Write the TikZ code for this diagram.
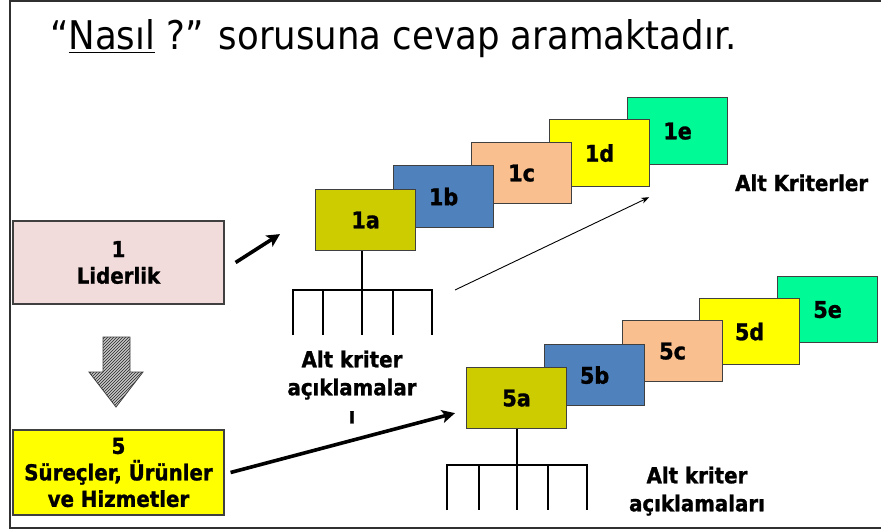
\documentclass[tikz,border=0pt]{standalone}
\usepackage{fontspec}
\setmainfont{DejaVu Sans Condensed}[BoldFeatures={FakeBold=1.2}]
\usetikzlibrary{arrows.meta,patterns}
\definecolor{frameline}{HTML}{303030}
\definecolor{boxline}{HTML}{404040}
\definecolor{critA}{HTML}{CCCC00}
\definecolor{critB}{HTML}{4F81BD}
\definecolor{critC}{HTML}{F9BF8F}
\definecolor{critD}{HTML}{FFFF00}
\definecolor{critE}{HTML}{00FA96}
\definecolor{leadfill}{HTML}{F2DCDB}
\definecolor{procfill}{HTML}{FFFF00}
\begin{document}
\begin{tikzpicture}[x=1pt,y=-1pt,
  lbl/.style={font=\bfseries\fontsize{22}{28}\selectfont,align=center},
  crit/.style={draw=boxline,line width=1.2pt,minimum width=100pt,minimum height=61pt,
    inner sep=0pt,anchor=north west,font=\bfseries\fontsize{23}{23}\selectfont},
  mainbox/.style={draw=boxline,line width=1.2pt,minimum width=211pt,inner sep=0pt,
    font=\bfseries\fontsize{22}{26.5}\selectfont,align=center},
  fatarrow/.style={line width=3.6pt,-{Stealth[length=13pt,width=13pt,inset=3pt]}},
  thinarrow/.style={line width=0.9pt,-{Stealth[length=8pt,width=6pt]}},
  tree/.style={line width=2.6pt},
]
\useasboundingbox (0,0) rectangle (881,532);
\fill[white] (0,0) rectangle (881,532);
% frame
\draw[frameline,line width=1.5pt] (890,1) -- (10,1) -- (10,528) -- (890,528);

% title
\node[anchor=base west,inner sep=0pt,font=\fontsize{39.5}{39.5}\selectfont] (title) at (50,50)
  {“\underline{Nasıl} ?” sorusuna cevap aramaktadır.};

% criterion 1 and 5
\node[mainbox,fill=leadfill,minimum height=83pt] (lead) at (118.5,262.5) {1\\Liderlik};
\node[mainbox,fill=procfill,minimum height=85pt] (proc) at (118.5,472.5) {5\\Süreçler, Ürünler\\ve Hizmetler};

% hatched downward arrow
\fill[gray!45] (103,337) -- (130,337) -- (130,372) -- (143,372) -- (116,407) -- (89,372) -- (103,372) -- cycle;
\path[pattern=north east lines,pattern color=black!85] (103,337) -- (130,337) -- (130,372) -- (143,372) -- (116,407) -- (89,372) -- (103,372) -- cycle;
\draw[boxline,line width=0.8pt] (103,337) -- (130,337) -- (130,372) -- (143,372) -- (116,407) -- (89,372) -- (103,372) -- cycle;

% sub-criteria of 1 (back to front)
\node[crit,fill=critE,minimum height=67pt] (c1e) at (627,97) {1e};
\node[crit,fill=critD,minimum height=67pt] (c1d) at (549,119) {1d};
\node[crit,fill=critC] (c1c) at (471,142) {1c};
\node[crit,fill=critB,minimum height=62pt] (c1b) at (393,165) {1b};
\node[crit,fill=critA] (c1a) at (315,189) {1a};

% sub-criteria of 5 (back to front)
\node[crit,fill=critE,minimum height=66pt] (c5e) at (777,276) {5e};
\node[crit,fill=critD,minimum height=66pt] (c5d) at (699,298) {5d};
\node[crit,fill=critC] (c5c) at (622,320) {5c};
\node[crit,fill=critB] (c5b) at (544,344) {5b};
\node[crit,fill=critA] (c5a) at (466,367) {5a};

% explanation trees
\coordinate (t1) at (362,290);
\draw[tree] (c1a.south -| t1) -- (t1);
\draw[tree] (293,335) -- (293,290) -- (432,290) -- (432,335);
\foreach \x in {323,362,393} \draw[tree] (\x,290) -- (\x,335);

\coordinate (t5) at (517,465);
\draw[tree] (c5a.south -| t5) -- (t5);
\draw[tree] (447,510) -- (447,465) -- (587,465) -- (587,510);
\foreach \x in {479,517,548} \draw[tree] (\x,465) -- (\x,510);

% labels
\node[lbl,anchor=north] (l1) at (352,347) {Alt kriter\\açıklamalar\\ı};
\node[lbl,anchor=north] (l5) at (697,463) {Alt kriter\\açıklamaları};
\node[lbl,anchor=base west,inner sep=0pt] (lk) at (735,191) {Alt Kriterler};

% connectors
\draw[fatarrow] ([shift={(11,0)}]lead.east) -- ([shift={(-35,14)}]c1a.west);
\draw[fatarrow] ([shift={(6,0)}]proc.east) -- ([shift={(-11,15)}]c5a.west);
\coordinate (s1) at (455,290);
\draw[thinarrow] (s1) -- ([shift={(-1,10)}]c1d.south east);
\end{tikzpicture}
\end{document}
